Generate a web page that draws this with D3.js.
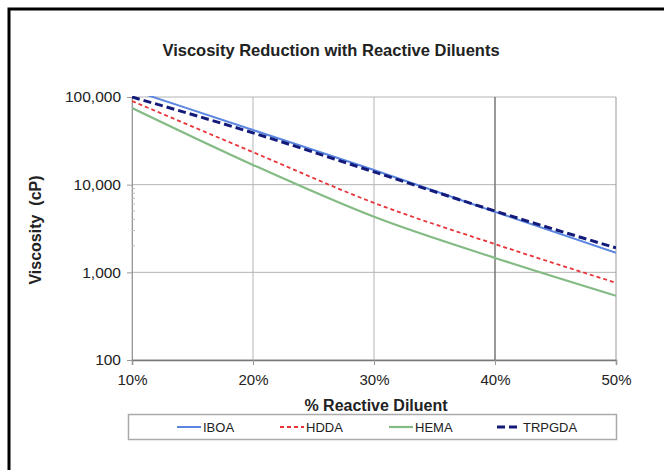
<!DOCTYPE html>
<html>
<head>
<meta charset="utf-8">
<script src="https://cdn.jsdelivr.net/npm/d3@7"></script>
<style>
  body { margin: 0; background: #fff; }
  text { font-family: "Liberation Sans", Arial, sans-serif; fill: #222; }
</style>
</head>
<body>
<div id="chart"></div>
<script>
// % reactive diluent
const diluent = [0.10, 0.20, 0.30, 0.40, 0.50]
// viscosity in cP
const iboa   = [120000, 42000, 14700, 4900, 1670]
const hdda   = [90000, 23500, 6200, 2100, 760]
const hema   = [75000, 16800, 4300, 1460, 540]
const trpgda = [100000, 39000, 14000, 5000, 1900]

const seriesNames = ['IBOA', 'HDDA', 'HEMA', 'TRPGDA']
const yTicks = [100, 1000, 10000, 100000]
const yMinor = [2000, 3000, 4000, 5000, 6000, 7000, 8000, 9000]
const xTicks = [0.1, 0.2, 0.3, 0.4, 0.5]

init()

function init(){
    const W = 664, H = 470
    const left = 132, right = 616, top = 97, bottom = 360

    let svg = d3.select('#chart')
        .append('svg')
        .attr('width', W)
        .attr('height', H)

    // outer frame (only left and top edges visible)
    svg.append('path')
        .attr('d', `M9,${H} L9,9 L${W},9`)
        .style('fill', 'none')
        .style('stroke', '#000')
        .style('stroke-width', 3)

    const x = d3.scaleLinear().domain([0.1, 0.5]).range([left, right])
    const y = d3.scaleLog().domain([100, 100000]).range([bottom, top])

    // gridlines
    svg.append('g')
        .selectAll('line.h')
        .data(yTicks)
        .join('line')
        .attr('x1', left).attr('x2', right)
        .attr('y1', d => y(d)).attr('y2', d => y(d))
        .style('stroke', '#b4b4b4')
        .style('stroke-width', 1)

    svg.append('g')
        .selectAll('line.v')
        .data(xTicks)
        .join('line')
        .attr('x1', d => x(d)).attr('x2', d => x(d))
        .attr('y1', top).attr('y2', bottom)
        .style('stroke', d => d == 0.4 ? '#777' : (d == 0.5 ? '#999' : '#b4b4b4'))
        .style('stroke-width', d => d == 0.4 ? 1.5 : 1)

    // axes
    let yAxis = svg.append('g')
        .attr('transform', `translate(${left},0)`)
        .call(d3.axisLeft(y).tickValues(yTicks).tickFormat(d3.format(',')).tickSize(5).tickPadding(6))
    yAxis.select('.domain').style('stroke', '#999')
    yAxis.selectAll('.tick line').style('stroke', '#999')
    yAxis.selectAll('text').style('font-size', '15.5px').style('fill', '#222')

    svg.append('g')
        .selectAll('line')
        .data(yMinor)
        .join('line')
        .attr('x1', left).attr('x2', left + 3)
        .attr('y1', d => y(d)).attr('y2', d => y(d))
        .style('stroke', '#bbb')

    let xAxis = svg.append('g')
        .attr('transform', `translate(0,${bottom})`)
        .call(d3.axisBottom(x).tickValues(xTicks).tickFormat(d3.format('.0%')).tickSize(5).tickPadding(9))
    xAxis.select('.domain').style('stroke', '#777').style('stroke-width', 1.5)
    xAxis.selectAll('.tick line').style('stroke', '#999')
    xAxis.selectAll('text').style('font-size', '15px').style('fill', '#222')

    // clip for lines running above the top of the plot
    svg.append('clipPath').attr('id', 'plot-clip')
        .append('rect')
        .attr('x', left).attr('y', top - 1)
        .attr('width', right - left).attr('height', bottom - top + 1)

    const styles = {
        IBOA:   { color: '#5a86e0', width: 2,   dash: null },
        HDDA:   { color: '#e8343a', width: 1.8, dash: '4,3' },
        HEMA:   { color: '#84bb84', width: 2.2, dash: null },
        TRPGDA: { color: '#141a7a', width: 3,   dash: '8,4' }
    }
    const values = { IBOA: iboa, HDDA: hdda, HEMA: hema, TRPGDA: trpgda }

    const line = d3.line()
        .x(d => x(d[0]))
        .y(d => y(d[1]))
        .curve(d3.curveMonotoneX)

    let lines = svg.append('g').attr('clip-path', 'url(#plot-clip)')
    seriesNames.forEach(name => {
        const pts = diluent.map((p, i) => [p, values[name][i]])
        lines.append('path')
            .datum(pts)
            .attr('d', line)
            .style('fill', 'none')
            .style('stroke', styles[name].color)
            .style('stroke-width', styles[name].width)
            .style('stroke-dasharray', styles[name].dash)
    })

    // titles
    svg.append('text')
        .attr('x', 331).attr('y', 56)
        .attr('text-anchor', 'middle')
        .style('font-size', '16.5px')
        .style('font-weight', 'bold')
        .text('Viscosity Reduction with Reactive Diluents')

    svg.append('text')
        .attr('x', 376).attr('y', 411)
        .attr('text-anchor', 'middle')
        .style('font-size', '16px')
        .style('font-weight', 'bold')
        .text('% Reactive Diluent')

    svg.append('text')
        .attr('transform', 'translate(41,230) rotate(-90)')
        .attr('text-anchor', 'middle')
        .style('font-size', '16px')
        .style('font-weight', 'bold')
        .style('white-space', 'pre')
        .text('Viscosity  (cP)')

    // legend
    svg.append('rect')
        .attr('x', 128.5).attr('y', 414.5)
        .attr('width', 488).attr('height', 25)
        .style('fill', '#fff')
        .style('stroke', '#aaa')
        .style('stroke-width', 1.5)

    const legendX = [177, 280, 389, 497]
    seriesNames.forEach((name, i) => {
        let g = svg.append('g').attr('transform', `translate(${legendX[i]},427)`)
        g.append('line')
            .attr('x1', 0).attr('x2', 24)
            .style('stroke', styles[name].color)
            .style('stroke-width', styles[name].width)
            .style('stroke-dasharray', styles[name].dash)
        g.append('text')
            .attr('x', 26).attr('y', 4.5)
            .style('font-size', '13px')
            .text(name)
    })
}
</script>
</body>
</html>
